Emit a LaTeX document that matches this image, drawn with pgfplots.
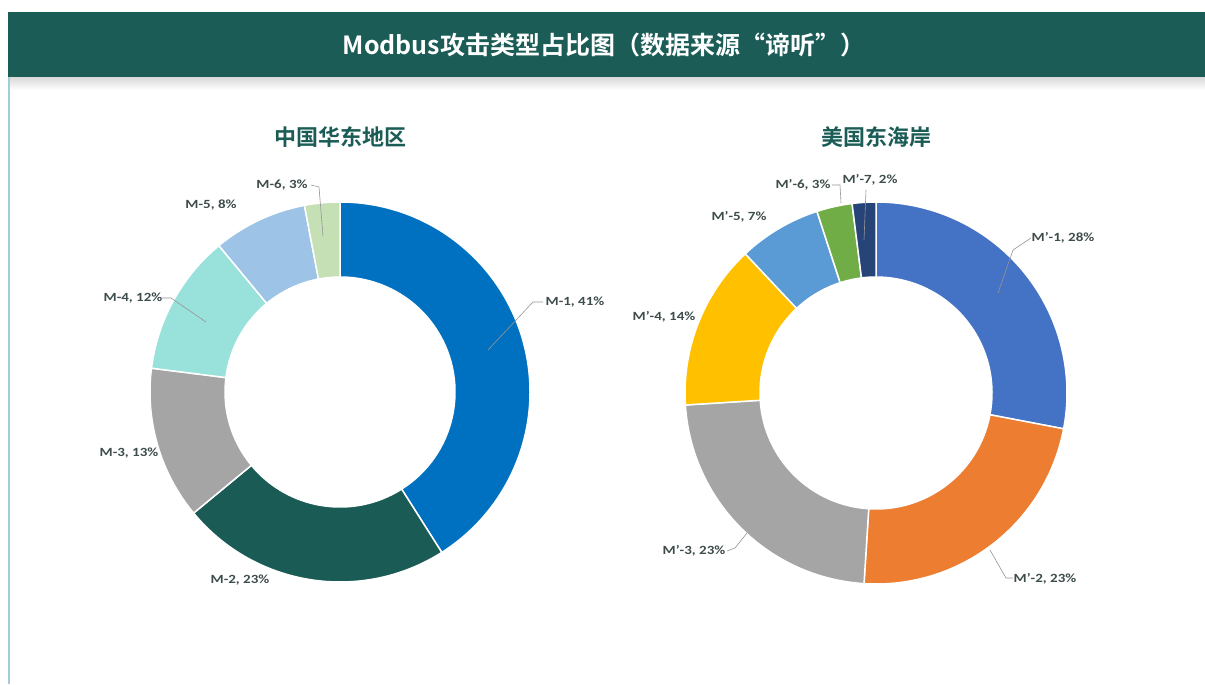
\documentclass[border=0pt]{standalone}
\usepackage{pgfplots}
\pgfplotsset{compat=1.18}
\usepackage{pgfplotstable}
\usepackage{fontspec}
\setmainfont{Carlito}
\newfontfamily\lblfont{Carlito}[Ligatures=TeX, FakeStretch=1.2]
\newfontfamily\cjk{Noto Sans CJK SC}[BoldFont={Noto Sans CJK SC Bold}]

\definecolor{banner}{RGB}{27,93,86}
\definecolor{frameline}{RGB}{160,205,215}
\definecolor{lblgray}{RGB}{62,76,76}
\definecolor{leadgray}{RGB}{150,150,150}
% left donut colours
\definecolor{eA}{RGB}{0,112,192}
\definecolor{eB}{RGB}{26,92,85}
\definecolor{eC}{RGB}{165,165,165}
\definecolor{eD}{RGB}{153,225,219}
\definecolor{eE}{RGB}{157,195,230}
\definecolor{eF}{RGB}{197,224,180}
% right donut colours
\definecolor{uA}{RGB}{68,114,196}
\definecolor{uB}{RGB}{237,125,49}
\definecolor{uC}{RGB}{165,165,165}
\definecolor{uD}{RGB}{255,192,0}
\definecolor{uE}{RGB}{91,155,213}
\definecolor{uF}{RGB}{112,173,71}
\definecolor{uG}{RGB}{38,68,120}

\tikzset{
  lbl/.style={font=\lblfont\bfseries\fontsize{12.5}{14}\selectfont, text=lblgray, inner sep=0pt},
  leader/.style={draw=leadgray, line width=0.6pt},
}

% name, share (%), colour, label position (px)
\pgfplotstableread{
name pct col lx ly
M-1 41 eA 575 302
M-2 23 eB 240 580
M-3 13 eC 129 453
M-4 12 eD 133 298
M-5 8 eE 211 205
M-6 3 eF 282 185
}\eastdata

\pgfplotstableread{
name pct col lx ly
M'-1 28 uA 1063 238
M'-2 23 uB 1045 579
M'-3 23 uC 694 551
M'-4 14 uD 664 317
M'-5 7 uE 739 217
M'-6 3 uF 803 185
M'-7 2 uG 870 180
}\usdata

% #1 table, #2 cx, #3 cy, #4 outer r, #5 inner r
\newcommand\donut[5]{%
  \pgfplotstablegetrowsof{#1}%
  \pgfmathtruncatemacro\nrows{\pgfplotsretval-1}%
  \def\cum{0}%
  \pgfplotsforeachungrouped \i in {0,...,\nrows}{%
    \pgfplotstablegetelem{\i}{pct}\of{#1}\let\segp\pgfplotsretval
    \pgfplotstablegetelem{\i}{col}\of{#1}\let\segc\pgfplotsretval
    \pgfplotstablegetelem{\i}{name}\of{#1}\let\segn\pgfplotsretval
    \pgfplotstablegetelem{\i}{lx}\of{#1}\let\segx\pgfplotsretval
    \pgfplotstablegetelem{\i}{ly}\of{#1}\let\segy\pgfplotsretval
    \pgfmathsetmacro\sa{90-3.6*\cum}%
    \pgfmathsetmacro\ea{90-3.6*(\cum+\segp)}%
    \pgfmathsetmacro\cum{\cum+\segp}%
    \edef\cmd{\noexpand\fill[fill=\segc,draw=white,line width=1.5pt]
      ([shift={(\sa:#4pt)}]axis cs:#2,#3) arc[start angle=\sa,end angle=\ea,radius=#4pt]
      -- ([shift={(\ea:#5pt)}]axis cs:#2,#3) arc[start angle=\ea,end angle=\sa,radius=#5pt] -- cycle;
      \noexpand\node[lbl] at (axis cs:\segx,\segy) {\segn, \segp\noexpand\%};}%
    \cmd
  }%
}

\begin{document}
\begin{tikzpicture}
\begin{axis}[
  width=1205pt, height=684pt, scale only axis,
  xmin=0, xmax=1205, ymin=0, ymax=684,
  y dir=reverse, hide axis, clip=false,
]
\fill[white] (0,0) rectangle (1205,684);
\shade[top color=black!15, bottom color=white] (8,77) rectangle (1205,90);
\fill[banner] (8,12) rectangle (1205,77);
\draw[frameline, line width=2pt] (9,77) -- (9,684);
\node[text=white, font=\cjk\bfseries\fontsize{25}{28}\selectfont] at (604,45)
  {Modbus攻击类型占比图（数据来源“谛听”）};
\node[text=banner, font=\cjk\bfseries\fontsize{22}{25}\selectfont] at (340,137) {中国华东地区};
\node[text=banner, font=\cjk\bfseries\fontsize{22}{25}\selectfont] at (876,137) {美国东海岸};

\donut{\eastdata}{340}{392}{190}{115}
\donut{\usdata}{876}{393}{191}{116}

% leader lines
\draw[leader] (543,302) -- (533,302) -- (488,350);
\draw[leader] (161,298) -- (171,298) -- (206,322);
\draw[leader] (311,185) -- (319,187) -- (323,236);
\draw[leader] (1031,238) -- (1013,250) -- (998,293);
\draw[leader] (1013,578) -- (1006,578) -- (990,550);
\draw[leader] (727,551) -- (735,548) -- (747,533);
\draw[leader] (832,185) -- (840,185) -- (841,203);
\draw[leader] (866,190) -- (864,240);
\end{axis}
\end{tikzpicture}
\end{document}
